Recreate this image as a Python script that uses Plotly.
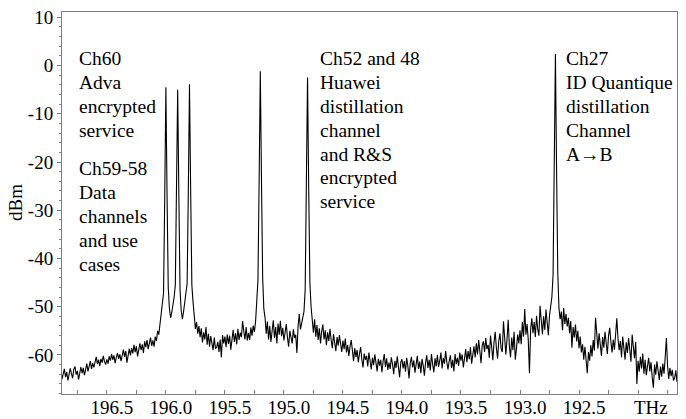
import numpy as np
import plotly.graph_objects as go

# ---------------- data ----------------
freq_start_thz = 196.90
freq_step_thz = -0.01

power_dbm = [
    # 196.90 - 196.81
    -64.5, -63.2, -65.0, -63.8, -62.9, -64.6, -63.5, -65.3, -64.0, -62.8,
    # 196.80 - 196.71
    -63.9, -64.8, -63.0, -62.4, -64.1, -63.3, -65.1, -63.6, -62.5, -63.8,
    # 196.70 - 196.61
    -62.7, -64.2, -63.1, -61.8, -63.4, -62.2, -61.3, -62.9, -61.7, -62.6,
    # 196.60 - 196.51
    -61.2, -60.4, -61.9, -61.0, -62.3, -60.8, -61.6, -60.2, -61.4, -62.0,
    # 196.50 - 196.41
    -60.9, -61.8, -60.3, -61.2, -59.8, -61.0, -60.1, -61.7, -60.5, -59.6,
    # 196.40 - 196.31
    -60.8, -59.9, -61.3, -60.0, -58.9, -60.4, -59.2, -61.6, -59.5, -58.7,
    # 196.30 - 196.21
    -60.1, -58.6, -59.7, -57.9, -59.4, -58.2, -60.3, -58.5, -57.6, -59.0,
    # 196.20 - 196.11
    -57.8, -59.6, -57.2, -58.4, -56.9, -58.8, -57.5, -56.4, -58.1, -57.0,
    # 196.10 - 196.01
    -58.3, -56.2, -57.1, -55.0, -55.8, -53.6, -51.4, -49.0, -47.2, -28.0,
    # 196.00 - 195.91  (Ch60)
    -4.5, -27.0, -46.0, -50.4, -52.3, -51.2, -49.8, -48.0, -45.5, -27.5,
    # 195.90 - 195.81  (Ch59)
    -5.0, -27.0, -46.5, -50.8, -52.6, -51.0, -48.6, -47.0, -45.2, -26.5,
    # 195.80 - 195.71  (Ch58)
    -3.9, -26.0, -45.5, -49.0, -52.8, -54.6, -53.2, -55.6, -54.0, -56.3,
    # 195.70 - 195.61
    -54.5, -57.4, -55.3, -56.8, -54.2, -57.9, -55.6, -58.3, -56.1, -57.2,
    # 195.60 - 195.51
    -59.0, -56.4, -58.6, -58.5, -57.3, -59.4, -56.8, -60.5, -55.9, -57.6,
    # 195.50 - 195.41
    -56.2, -58.4, -55.8, -57.7, -56.0, -58.9, -56.5, -54.8, -57.3, -55.5,
    # 195.40 - 195.31
    -57.8, -54.6, -56.9, -55.4, -56.3, -53.0, -55.1, -56.8, -54.2, -57.0,
    # 195.30 - 195.21
    -55.4, -56.9, -54.3, -56.0, -53.9, -55.2, -53.0, -49.5, -44.5, -24.0,
    # 195.20 - 195.11  (Ch52)
    -1.2, -24.0, -44.0, -50.5, -52.2, -55.6, -53.1, -56.8, -54.0, -57.3,
    # 195.10 - 195.01
    -54.6, -52.8, -56.5, -54.2, -57.6, -53.5, -55.8, -52.9, -56.1, -54.4,
    # 195.00 - 194.91
    -57.0, -55.2, -53.6, -56.4, -58.3, -55.0, -56.9, -57.6, -54.7, -56.5,
    # 194.90 - 194.81
    -55.8, -59.6, -54.0, -51.5, -54.7, -53.2, -51.8, -51.0, -46.5, -25.0,
    # 194.80 - 194.71  (Ch48)
    -2.5, -25.5, -45.0, -50.0, -53.1, -55.4, -52.6, -56.2, -53.8, -56.9,
    # 194.70 - 194.61
    -54.5, -57.6, -55.1, -53.7, -56.8, -54.9, -58.0, -55.3, -57.1, -54.6,
    # 194.60 - 194.51
    -56.9, -58.6, -55.7, -57.4, -59.2, -56.3, -58.1, -55.9, -57.8, -59.4,
    # 194.50 - 194.41
    -57.0, -58.8, -56.6, -59.5, -57.9, -60.2, -58.3, -56.9, -59.0, -61.3,
    # 194.40 - 194.31
    -58.6, -60.4, -59.0, -61.5, -59.8, -58.4, -60.9, -62.6, -59.7, -61.0,
    # 194.30 - 194.21
    -60.2, -62.4, -59.5, -61.3, -63.0, -60.6, -62.1, -59.9, -61.8, -63.4,
    # 194.20 - 194.11
    -60.8, -62.2, -61.0, -63.6, -61.4, -59.8, -62.5, -60.7, -63.1, -61.6,
    # 194.10 - 194.01
    -62.9, -60.5, -61.9, -64.0, -61.2, -62.7, -60.3, -62.0, -64.6, -61.5,
    # 194.00 - 193.91
    -60.9, -62.8, -61.3, -63.5, -60.6, -62.3, -64.9, -61.7, -60.4, -62.6,
    # 193.90 - 193.81
    -61.1, -63.7, -62.0, -60.2, -62.9, -61.4, -63.8, -60.8, -62.2, -64.3,
    # 193.80 - 193.71
    -61.6, -60.1, -62.7, -61.0, -63.2, -59.8, -61.9, -63.6, -60.7, -62.4,
    # 193.70 - 193.61
    -60.0, -62.5, -61.2, -59.5, -62.8, -60.6, -61.8, -59.2, -61.5, -63.0,
    # 193.60 - 193.51
    -61.3, -60.1, -62.7, -61.0, -63.4, -59.8, -61.9, -60.6, -62.3, -59.5,
    # 193.50 - 193.41
    -61.2, -59.9, -62.6, -60.3, -58.8, -61.5, -59.2, -60.9, -58.4, -61.8,
    # 193.40 - 193.31
    -59.6, -58.2, -60.5, -57.6, -59.9, -56.9, -59.3, -61.7, -58.0, -57.2,
    # 193.30 - 193.21
    -59.4, -56.5, -58.8, -57.9, -60.6, -56.0, -58.3, -61.1, -57.4, -55.2,
    # 193.20 - 193.11
    -58.6, -60.8, -57.1, -55.5, -58.7, -59.4, -53.0, -57.6, -59.9, -56.8,
    # 193.10 - 193.01
    -52.7, -58.3, -60.5, -56.4, -59.0, -55.2, -61.0, -58.7, -55.8, -57.6,
    # 193.00 - 192.91
    -54.9, -57.8, -53.2, -56.2, -50.5, -55.8, -53.6, -56.9, -63.8, -54.7,
    # 192.90 - 192.81
    -52.4, -55.5, -53.2, -56.3, -51.9, -54.6, -56.0, -49.8, -53.4, -55.7,
    # 192.80 - 192.71
    -52.0, -54.8, -50.6, -53.9, -55.9, -51.8, -50.3, -48.0, -43.5, -22.0,
    # 192.70 - 192.61  (Ch27)
    2.4, -22.0, -43.0, -50.3, -52.6, -51.0, -54.9, -50.3, -53.6, -51.5,
    # 192.60 - 192.51
    -54.1, -52.3, -55.5, -53.0, -58.5, -54.2, -56.4, -53.7, -57.2, -55.0,
    # 192.50 - 192.41
    -58.6, -56.2, -59.5, -57.8, -61.0, -58.3, -60.6, -63.8, -59.4, -61.2,
    # 192.40 - 192.31
    -58.0, -60.3, -56.9, -59.1, -52.3, -56.4, -58.7, -55.5, -57.9, -60.2,
    # 192.30 - 192.21
    -56.3, -58.5, -55.2, -57.6, -59.8, -56.0, -54.4, -57.3, -59.5, -56.8,
    # 192.20 - 192.11
    -58.9, -55.7, -52.4, -56.6, -59.0, -57.1, -60.5, -56.2, -58.3, -61.0,
    # 192.10 - 192.01
    -57.4, -59.6, -56.5, -58.8, -61.4, -55.8, -58.2, -60.7, -57.3, -66.0,
    # 192.00 - 191.91
    -61.2, -63.5, -60.4, -62.8, -59.7, -63.9, -61.0, -64.2, -62.3, -60.6,
    # 191.90 - 191.81
    -63.4, -61.5, -64.7, -66.8, -62.0, -64.1, -61.3, -63.6, -65.2, -62.4,
    # 191.80 - 191.71
    -64.5, -61.8, -63.9, -60.5, -56.5, -62.3, -65.0, -62.7, -64.4, -63.1,
    # 191.70 - 191.61
    -65.3, -64.8, -63.2, -65.6, -64.0, -63.5, -65.2, -64.1, -63.7, -64.5,
]

x_tick_values = [196.5, 196.0, 195.5, 195.0, 194.5, 194.0, 193.5, 193.0, 192.5]
x_tick_labels = ["196.5", "196.0", "195.5", "195.0", "194.5", "194.0", "193.5", "193.0", "192.5"]
x_minor_ticks = [196.75, 196.25, 195.75, 195.25, 194.75, 194.25, 193.75, 193.25, 192.75, 192.25, 192.0, 191.75]
y_tick_values = [10, 0, -10, -20, -30, -40, -50, -60]
y_tick_labels = ["10", "0", "-10", "-20", "-30", "-40", "-50", "-60"]

label_groups = [
    (196.75, ["Ch60", "Adva", "encrypted", "service"], 58.8),
    (196.75, ["Ch59-58", "Data", "channels", "and use", "cases"], 168.8),
    (194.714, ["Ch52 and 48", "Huawei", "distillation", "channel", "and R&S", "encrypted", "service"], 58.8),
    (192.625, ["Ch27", "ID Quantique", "distillation", "Channel", "A\u2192B"], 58.8),
]

# ---------------- figure ----------------
freq_thz = np.round(freq_start_thz + freq_step_thz * np.arange(len(power_dbm)), 2)

W, H = 686, 419
ML, MR, MT, MB = 62, 9, 12, 25
plot_h = H - MT - MB
FONT = "Liberation Serif, Times New Roman, Times, serif"
FRAME = "#7f7f7f"

fig = go.Figure()
fig.add_trace(go.Scatter(x=freq_thz, y=power_dbm, mode="lines",
                         line=dict(color="black", width=1.1), hoverinfo="skip"))

annotations = []
LINE_STEP = 23.8
for xpos, lines, top_px in label_groups:
    for k, txt in enumerate(lines):
        ypx = top_px + k * LINE_STEP
        annotations.append(dict(
            x=xpos, xref="x", y=(H - MB - ypx) / plot_h, yref="paper",
            text=txt, showarrow=False, xanchor="left", yanchor="middle",
            font=dict(family=FONT, size=19.5, color="black")))

annotations.append(dict(x=191.89, xref="x", y=(H - MB - 407.5) / plot_h, yref="paper",
                        text="THz", showarrow=False, xanchor="center", yanchor="middle",
                        font=dict(family=FONT, size=19, color="black")))
annotations.append(dict(x=(15 - ML) / (W - ML - MR), xref="paper", y=(H - MB - 203) / plot_h,
                        yref="paper", text="dBm", showarrow=False, textangle=-90,
                        xanchor="center", yanchor="middle",
                        font=dict(family=FONT, size=19, color="black")))

fig.update_layout(
    width=W, height=H,
    margin=dict(l=ML, r=MR, t=MT, b=MB, pad=0, autoexpand=False),
    paper_bgcolor="white", plot_bgcolor="white",
    showlegend=False,
    font=dict(family=FONT, size=19, color="black"),
    annotations=annotations,
    xaxis=dict(range=[196.88, 191.67], tickmode="array", tickvals=x_tick_values,
               ticktext=x_tick_labels, ticks="inside", ticklen=4, tickcolor=FRAME,
               ticklabelshift=-5, ticklabelstandoff=-4, automargin=False,
               minor=dict(tickmode="array", tickvals=x_minor_ticks, ticks="inside",
                          ticklen=4, tickcolor=FRAME),
               showline=True, linecolor=FRAME, linewidth=1, mirror=True,
               showgrid=False, zeroline=False),
    yaxis=dict(range=[-68.1, 11.1], tickmode="array", tickvals=y_tick_values,
               ticktext=y_tick_labels, ticks="outside", ticklen=4, tickcolor=FRAME,
               automargin=False,
               minor=dict(dtick=2, tick0=0, ticks="outside", ticklen=2, tickcolor=FRAME),
               showline=True, linecolor=FRAME, linewidth=1, mirror=True,
               showgrid=False, zeroline=False),
)

fig.write_html("out.html", config={"displayModeBar": False},
               post_script="document.body.style.margin='0';document.body.style.padding='0';")
